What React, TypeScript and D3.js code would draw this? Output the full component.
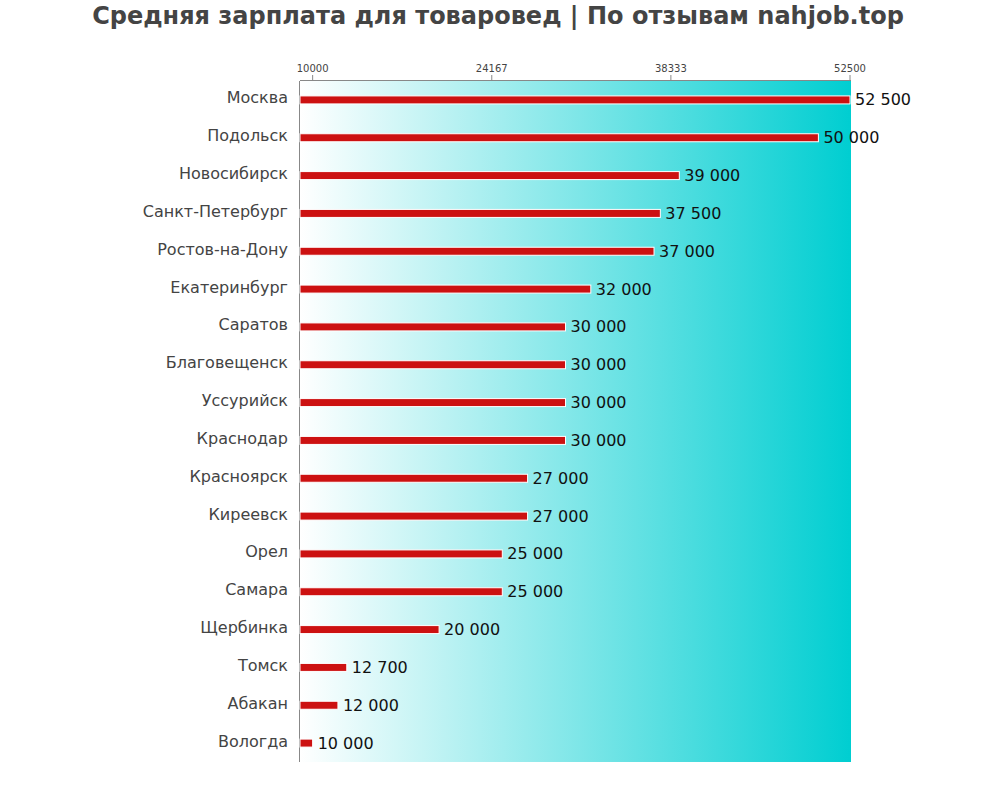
import React from "react";
import * as d3 from "d3";

const categories = ["Москва","Подольск","Новосибирск","Санкт-Петербург","Ростов-на-Дону","Екатеринбург","Саратов","Благовещенск","Уссурийск","Краснодар","Красноярск","Киреевск","Орел","Самара","Щербинка","Томск","Абакан","Вологда"];
const values = [52500,50000,39000,37500,37000,32000,30000,30000,30000,30000,27000,27000,25000,25000,20000,12700,12000,10000];
const ticks = [10000,24167,38333,52500];
const title = "Средняя зарплата для товаровед | По отзывам nahjob.top";

export default function App() {
  const W = 1000, H = 800;
  const left = 300, right = 851, top = 81, bottom = 762;
  const x = d3.scaleLinear().domain([9000, 52500]).range([left, 850]);
  const y = d3.scaleBand<string>().domain(categories).range([top, bottom]);
  const fmt = (v: number) => d3.format(",")(v).replace(/,/g, " ");
  const font = "DejaVu Sans, sans-serif";
  return (
    <svg width={W} height={H} style={{ position: "absolute", left: 0, top: 0, background: "#fff" }}>
      <defs>
        <linearGradient id="bg" x1="0" x2="1" y1="0" y2="0">
          <stop offset="0%" stopColor="#ffffff" />
          <stop offset="100%" stopColor="#00ced1" />
        </linearGradient>
      </defs>
      <text x={498} y={24} textAnchor="middle" fontFamily={font} fontWeight="bold" fontSize={24} fill="#444">{title}</text>
      <rect x={left} y={top} width={right - left} height={bottom - top} fill="url(#bg)" />
      <line x1={left} x2={right} y1={top - 0.5} y2={top - 0.5} stroke="#888" />
      <line x1={left - 0.5} x2={left - 0.5} y1={top} y2={bottom} stroke="#888" />
      {ticks.map((t) => (
        <g key={t}>
          <line x1={x(t)} x2={x(t)} y1={top - 6} y2={top} stroke="#888" />
          <text x={x(t)} y={top - 9} textAnchor="middle" fontFamily={font} fontSize={10} fill="#444">{t}</text>
        </g>
      ))}
      {categories.map((c, i) => {
        const cy = (y(c) as number) + y.bandwidth() / 2;
        return (
          <g key={c}>
            <rect x={left} y={cy - 4} width={x(values[i]) - left} height={8} fill="#cc1111" stroke="#fff" strokeWidth={1} />
            <text x={288} y={cy + 3.5} textAnchor="end" fontFamily={font} fontSize={16} fill="#444">{c}</text>
            <text x={x(values[i]) + 5} y={cy + 5.5} fontFamily={font} fontSize={16} fill="#111">{fmt(values[i])}</text>
          </g>
        );
      })}
    </svg>
  );
}
